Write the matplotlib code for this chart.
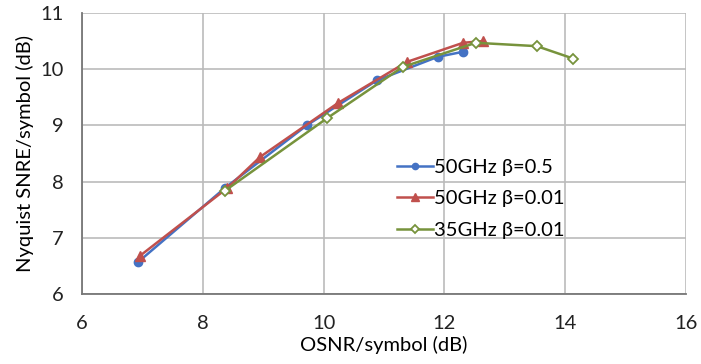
import matplotlib
matplotlib.use("Agg")
from matplotlib import pyplot as plt

# data
osnr_50_05 = [6.93, 8.37, 9.72, 10.88, 11.89, 12.31]
snre_50_05 = [6.57, 7.89, 9.00, 9.80, 10.22, 10.31]

osnr_50_001 = [6.96, 8.40, 8.95, 10.24, 11.38, 12.31, 12.64]
snre_50_001 = [6.68, 7.88, 8.44, 9.40, 10.13, 10.47, 10.50]

osnr_35_001 = [8.37, 10.06, 11.31, 12.52, 13.53, 14.13]
snre_35_001 = [7.84, 9.13, 10.04, 10.47, 10.41, 10.19]

x_ticks = [6, 8, 10, 12, 14, 16]
y_ticks = [6, 7, 8, 9, 10, 11]

plt.rcParams['font.family'] = ['Lato', 'DejaVu Sans']

fig = plt.figure(figsize=(7.01, 3.64), dpi=100)
ax = fig.add_axes([0.117, 0.1923, 0.8616, 0.772])

ax.plot(osnr_50_05, snre_50_05, color='#4472C4', lw=1.8, marker='o', ms=6,
        label='50GHz β=0.5', zorder=3)
ax.plot(osnr_50_001, snre_50_001, color='#C0504D', lw=1.8, marker='^', ms=7,
        label='50GHz β=0.01', zorder=4)
ax.plot(osnr_35_001, snre_35_001, color='#77933C', lw=1.8, marker='D', ms=5,
        markerfacecolor='white', markeredgewidth=1.3, label='35GHz β=0.01', zorder=5)

ax.set_xlim(6, 16)
ax.set_ylim(6, 11)
ax.set_xticks(x_ticks)
ax.set_yticks(y_ticks)
ax.tick_params(length=0, labelsize=14.5, colors='#222222')
ax.tick_params(axis='x', pad=15)
ax.tick_params(axis='y', pad=13)
ax.grid(True, color='#BBBBBB', lw=1.2)
ax.set_axisbelow(True)
for side in ['top', 'right']:
    ax.spines[side].set_visible(False)
for side in ['left', 'bottom']:
    ax.spines[side].set_color('#777777')
    ax.spines[side].set_linewidth(1.3)

ax.set_xlabel('OSNR/symbol (dB)', fontsize=14.5, labelpad=3)
ax.set_ylabel('Nyquist SNRE/symbol (dB)', fontsize=14.5, labelpad=5)

leg = ax.legend(loc='upper left', bbox_to_anchor=(0.505, 0.517), frameon=False,
                fontsize=14.5, handlelength=1.8, handletextpad=0.05,
                labelspacing=0.72, borderpad=0, markerscale=0.75)

fig.savefig('out.png', dpi=100)
